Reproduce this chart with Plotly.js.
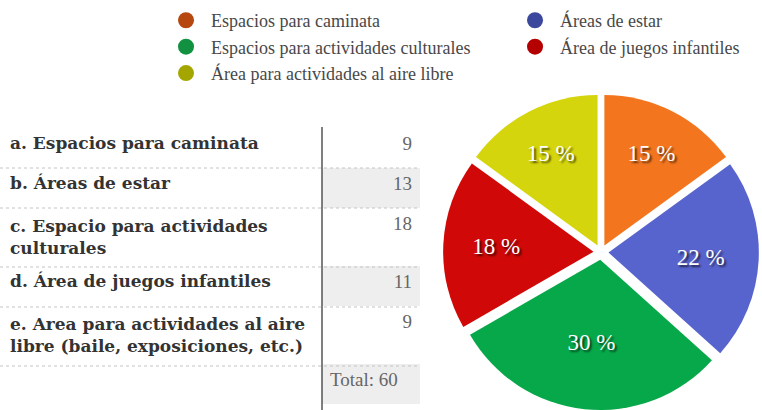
<!DOCTYPE html>
<html>
<head>
<meta charset="utf-8">
<script src="https://cdn.plot.ly/plotly-3.0.1.min.js"></script>
<style>html,body{margin:0;padding:0;background:#fff;}#chart{width:762px;height:410px;}</style>
</head>
<body>
<div id="chart"></div>
<script>
// ---- data ----
const categories = ['Espacios para caminata', 'Áreas de estar', 'Espacios para actividades culturales', 'Área de juegos infantiles', 'Área para actividades al aire libre'];
const tableLabels = ['a. Espacios para caminata', 'b. Áreas de estar', 'c. Espacio para actividades<br>culturales', 'd. Área de juegos infantiles', 'e. Area para actividades al aire<br>libre (baile, exposiciones, etc.)'];
const counts = [9, 13, 18, 11, 9];
const totalLabel = 'Total: ';

// ---- styles ----
const pieColors = ['#f3761f', '#5864cd', '#07a84a', '#d10808', '#d5d50d'];
const legendColors = ['#b5470f', '#3c489e', '#129140', '#b40000', '#a5a500'];

const total = counts.reduce((a, b) => a + b, 0);
const pctText = counts.map(v => Math.round(v / total * 100) + ' %');

const traces = [];

// legend entries (circles)
categories.forEach((c, i) => {
  traces.push({
    type: 'scatter', mode: 'markers', x: [null], y: [null], name: c,
    marker: {color: legendColors[i], size: 17, symbol: 'circle'},
    hoverinfo: 'skip', xaxis: 'x', yaxis: 'y'
  });
});

// pie
traces.push({
  type: 'pie',
  values: counts,
  labels: categories,
  text: pctText,
  textinfo: 'text',
  texttemplate: '%{text}',
  textposition: 'inside',
  insidetextorientation: 'horizontal',
  sort: false,
  direction: 'clockwise',
  rotation: 0,
  pull: counts.map(() => 0.05),
  marker: {colors: pieColors, line: {width: 0}},
  textfont: {family: 'Liberation Serif', size: 23, color: '#ffffff', shadow: '2px 2px 2px rgba(0,0,0,0.65)'},
  showlegend: false,
  domain: {x: [0.5787, 0.9987], y: [0, 0.77]},
  hoverinfo: 'label+percent'
});

// table
const col1 = tableLabels.concat(['']);
const col2 = counts.map(String).concat([totalLabel + total]);
const rowFill = ['#ffffff', '#eeeeee', '#ffffff', '#eeeeee', '#ffffff', '#eeeeee'];
traces.push({
  type: 'table',
  domain: {x: [2 / 762, 0.5512], y: [0, 0.7268]},
  columnwidth: [320, 98],
  header: {values: [], height: 0, line: {width: 0}, fill: {color: 'rgba(0,0,0,0)'}},
  cells: {
    values: [col1, col2],
    height: 40,
    align: [['left','left','left','left','left','left'], ['right','right','right','right','right','left']],
    fill: {color: [col1.map(() => '#ffffff'), rowFill]},
    line: {width: 0, color: 'rgba(0,0,0,0)'},
    font: {
      family: [['DejaVu Serif'], ['Liberation Serif']],
      size: [17, 19],
      color: ['#333333', '#666666'],
      weight: ['bold', 'normal']
    }
  }
});

const shapes = [];
// dotted row separators
[168, 208, 267, 307, 366].forEach(py => {
  shapes.push({type: 'line', xref: 'paper', yref: 'paper', x0: 0, x1: 420 / 762, y0: 1 - py / 410, y1: 1 - py / 410,
    line: {color: '#c4c4c4', width: 1, dash: 'dot'}});
});
// vertical divider
shapes.push({type: 'line', xref: 'paper', yref: 'paper', x0: 322 / 762, x1: 322 / 762, y0: 0, y1: 1 - 127 / 410,
  line: {color: '#555555', width: 1.5}});

const layout = {
  width: 762, height: 410,
  margin: {l: 0, r: 0, t: 0, b: 0},
  paper_bgcolor: '#ffffff', plot_bgcolor: 'rgba(0,0,0,0)',
  xaxis: {visible: false, domain: [0, 0.01]},
  yaxis: {visible: false, domain: [0, 0.01]},
  showlegend: true,
  legend: {
    orientation: 'h', x: 0.0814, xanchor: 'left', y: 0.995, yanchor: 'top',
    indentation: 99, entrywidth: 195, entrywidthmode: 'pixels', itemwidth: 40,
    font: {family: 'Liberation Serif', size: 18, color: '#484848'},
    bgcolor: 'rgba(0,0,0,0)', traceorder: 'normal'
  },
  shapes: shapes
};

Plotly.newPlot('chart', traces, layout, {displayModeBar: false, staticPlot: true});
</script>
</body>
</html>
